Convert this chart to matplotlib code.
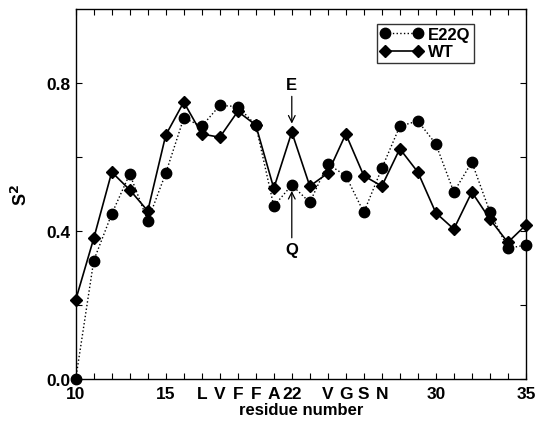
import numpy as np
import matplotlib.pyplot as plt

plt.rcParams['font.family'] = ['Liberation Sans', 'DejaVu Sans']
plt.rcParams['font.weight'] = 'bold'

residue = np.arange(10, 36)

# order parameters per residue
s2_e22q = [0.00, 0.32, 0.446, 0.554, 0.427, 0.556, 0.705, 0.683, 0.739, 0.736,
           0.686, 0.467, 0.524, 0.477, 0.581, 0.549, 0.450, 0.569, 0.683, 0.697,
           0.635, 0.505, 0.586, 0.452, 0.353, 0.362]
s2_wt = [0.214, 0.380, 0.559, 0.511, 0.454, 0.659, 0.748, 0.662, 0.653, 0.723,
         0.686, 0.515, 0.667, 0.521, 0.556, 0.662, 0.549, 0.521, 0.622, 0.559,
         0.449, 0.405, 0.505, 0.432, 0.369, 0.416]

tick_pos = [10, 15, 17, 18, 19, 20, 21, 22, 24, 25, 26, 27, 30, 35]
tick_lab = ['10', '15', 'L', 'V', 'F', 'F', 'A', '22', 'V', 'G', 'S', 'N', '30', '35']

fig = plt.figure(figsize=(5.41, 4.27), dpi=100)
ax = fig.add_axes([0.14, 0.11, 0.832, 0.867])

ax.plot(residue, s2_e22q, color='black', linestyle=':', linewidth=1.0,
        marker='o', markersize=7.5, clip_on=False, label='E22Q', zorder=3)
ax.plot(residue, s2_wt, color='black', linestyle='-', linewidth=1.2,
        marker='D', markersize=6, clip_on=False, label='WT', zorder=3)

# mutation site arrows at residue 22
ax.annotate('E', xy=(22, 0.69), xytext=(22, 0.795), ha='center', va='center',
            fontsize=12, fontweight='bold',
            arrowprops=dict(arrowstyle='->', color='black', lw=0.9, shrinkA=1, shrinkB=0))
ax.annotate('Q', xy=(22, 0.508), xytext=(22, 0.35), ha='center', va='center',
            fontsize=12, fontweight='bold',
            arrowprops=dict(arrowstyle='->', color='black', lw=0.9, shrinkA=1, shrinkB=0))

ax.set_xlim(10, 35)
ax.set_ylim(0, 1.0)
ax.set_xticks(tick_pos)
ax.set_xticklabels(tick_lab)
ax.set_xticks(residue, minor=True)
ax.set_yticks([0.0, 0.4, 0.8])
ax.set_yticklabels(['0.0', '0.4', '0.8'])
ax.set_yticks([0.2, 0.6], minor=True)
ax.tick_params(which='both', direction='in', top=True, right=True,
               labelsize=12.5, length=4, width=0.8)
ax.tick_params(axis='x', pad=5)
for sp in ax.spines.values():
    sp.set_linewidth(1.0)

ax.set_xlabel('residue number', fontsize=12, fontweight='bold', labelpad=1)
ax.set_ylabel('S$^2$', fontsize=13, fontweight='bold', labelpad=11)

leg = ax.legend(loc='upper right', bbox_to_anchor=(0.885, 0.96), numpoints=2,
                fontsize=12, frameon=True, fancybox=False, handlelength=2.6,
                borderpad=0.2, labelspacing=0.15, handletextpad=0.3,
                borderaxespad=0)
leg.get_frame().set_edgecolor('black')
leg.get_frame().set_linewidth(1.0)

fig.savefig('out.png', dpi=100)
